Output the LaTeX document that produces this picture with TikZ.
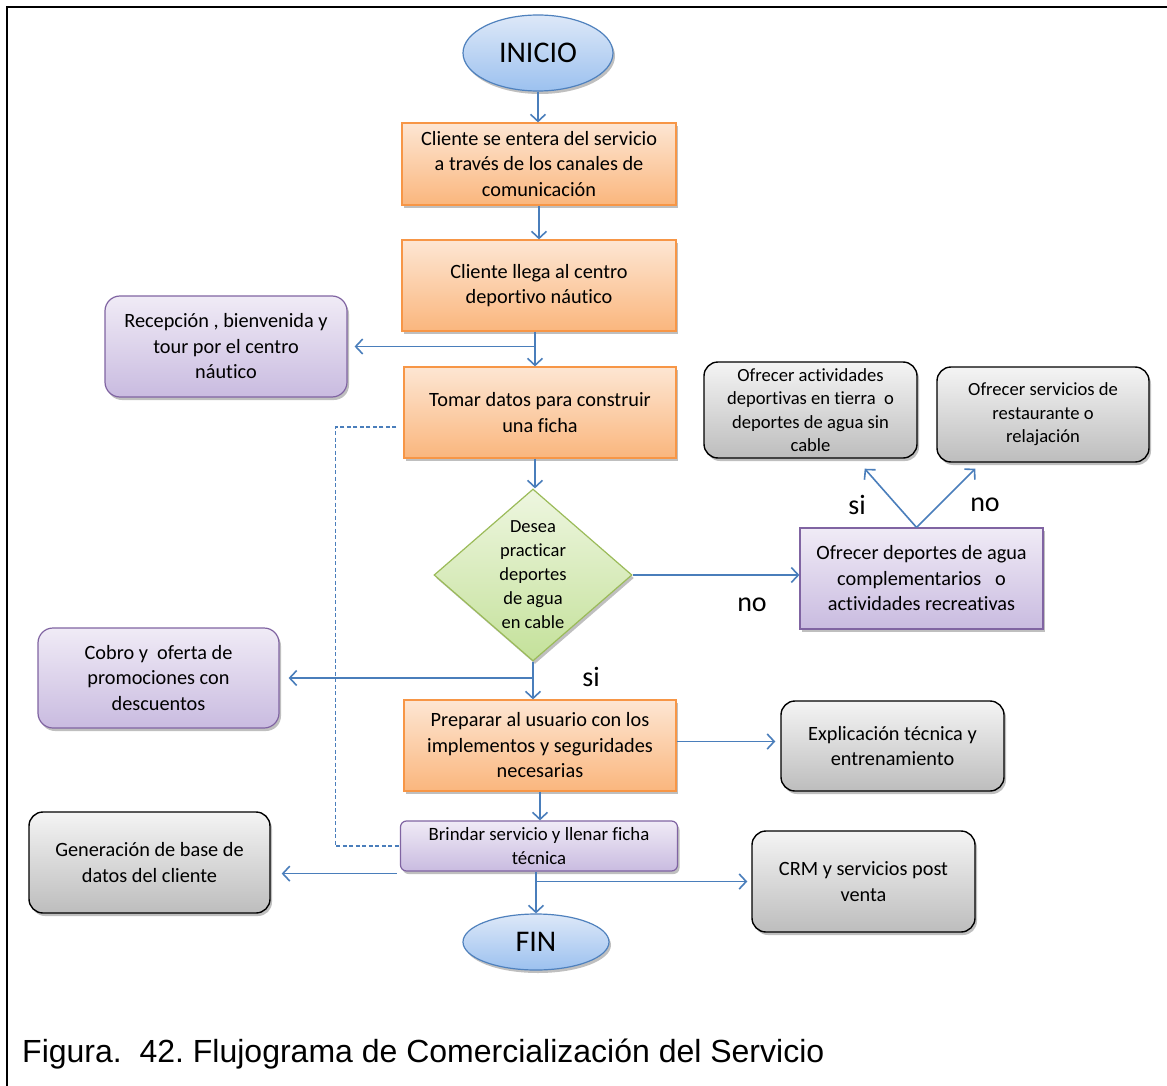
\documentclass[tikz,border=0pt]{standalone}
\usepackage{fontspec}
\setmainfont{Carlito}[Ligatures=NoCommon]
\newfontfamily\capfont{Liberation Sans}
\usetikzlibrary{arrows.meta,shapes.geometric,shadows,calc}

\definecolor{arrowblue}{HTML}{4A7EBB}
\definecolor{orangeborder}{HTML}{F79646}
\definecolor{orangetop}{HTML}{FDE6D3}
\definecolor{orangebot}{HTML}{FAB67D}
\definecolor{purpleborder}{HTML}{8064A2}
\definecolor{purpletop}{HTML}{F0EBF6}
\definecolor{purplebot}{HTML}{C9BBE0}
\definecolor{greenborder}{HTML}{9BBB59}
\definecolor{greentop}{HTML}{EEF6E0}
\definecolor{greenbot}{HTML}{C4E19A}
\definecolor{blueborder}{HTML}{4F81BD}
\definecolor{bluetop}{HTML}{DDE8F8}
\definecolor{bluebot}{HTML}{9CC1EF}
\definecolor{graytop}{HTML}{F4F4F4}
\definecolor{graybot}{HTML}{BDBDBD}

\tikzset{
  softshadow/.style={drop shadow={shadow xshift=2pt, shadow yshift=-3pt, opacity=0.25, fill=black}},
  box/.style={rectangle, inner sep=0pt, align=center, font=\fontsize{20.3}{25.5}\selectfont},
  orangebox/.style={box, draw=orangeborder, line width=1.2pt, top color=orangetop, bottom color=orangebot, softshadow},
  purplebox/.style={box, draw=purpleborder, line width=1.2pt, top color=purpletop, bottom color=purplebot, softshadow},
  graybox/.style={box, rounded corners=14pt, draw=black, line width=1.4pt, top color=graytop, bottom color=graybot, softshadow},
  terminal/.style={ellipse, inner sep=0pt, draw=blueborder, line width=1.2pt, top color=bluetop, bottom color=bluebot, font=\fontsize{30}{36}\selectfont, softshadow},
  decision/.style={diamond, inner sep=0pt, draw=greenborder, line width=1.2pt, top color=greentop, bottom color=greenbot, softshadow},
  arr/.style={draw=arrowblue, line width=1.6pt, -{Straight Barb[length=7pt,width=15pt]}},
  dashline/.style={draw=arrowblue, line width=1.2pt, dash pattern=on 4pt off 2.5pt},
  lbl/.style={inner sep=0pt, font=\fontsize{28}{30}\selectfont},
}

\begin{document}
\begin{tikzpicture}[x=1pt,y=-1pt]
\useasboundingbox (0,0) rectangle (1167,1086);
\fill[white] (0,0) rectangle (1167,1086);

% page frame (top and left edges)
\draw[line width=2.5pt] (7,1086) -- (7,7) -- (1167,7);

% main column
\node[terminal, minimum width=150pt, minimum height=76pt] (inicio) at (538,53) {INICIO};
\node[orangebox, minimum width=274pt, minimum height=82pt] (b1) at (539,164)
  {Cliente se entera del servicio\\a través de los canales de\\comunicación};
\node[orangebox, minimum width=274pt, minimum height=91pt] (b2) at (539,285.5)
  {Cliente llega al centro\\deportivo náutico};
\node[orangebox, minimum width=272pt, minimum height=91pt] (b3) at (540,412.5)
  {Tomar datos para construir\\una ficha};
\node[decision, minimum width=198pt, minimum height=172pt] (dec) at (533,575) {};
\node[box, font=\fontsize{18.5}{24}\selectfont] (dectext) at (dec) {Desea\\practicar\\deportes\\de agua\\en cable};
\node[orangebox, minimum width=272pt, minimum height=91pt] (prep) at (540,745.5)
  {Preparar al usuario con los\\implementos y seguridades\\necesarias};
\node[purplebox, rounded corners=6pt, minimum width=277pt, minimum height=50pt,
      font=\fontsize{18.8}{24}\selectfont] (brindar) at (539,846)
  {Brindar servicio y llenar ficha\\técnica};
\node[terminal, minimum width=146pt, minimum height=56pt] (fin) at (536,942) {FIN};

% side boxes
\node[purplebox, rounded corners=15pt, minimum width=242pt, minimum height=101pt] (recep) at (226,346.5)
  {Recepción , bienvenida y\\tour por el centro\\náutico};
\node[purplebox, minimum width=243pt, minimum height=101pt] (ofrecer) at (921.5,578.5)
  {Ofrecer deportes de agua\\complementarios~~~o\\actividades recreativas};
\node[graybox, minimum width=213pt, minimum height=96pt, font=\fontsize{18.6}{23.5}\selectfont] (tierra) at (810.5,410)
  {Ofrecer actividades\\deportivas en tierra~~o\\deportes de agua sin\\cable};
\node[graybox, minimum width=212pt, minimum height=95pt, font=\fontsize{18.6}{23.5}\selectfont] (resto) at (1043,414.5)
  {Ofrecer servicios de\\restaurante o\\relajación};
\node[purplebox, rounded corners=15pt, minimum width=241pt, minimum height=100pt] (cobro) at (158.5,678)
  {Cobro y~~oferta de\\promociones con\\descuentos};
\node[graybox, minimum width=223pt, minimum height=90pt] (explic) at (892.5,746)
  {Explicación técnica y\\entrenamiento};
\node[graybox, minimum width=241pt, minimum height=101pt] (gener) at (149.5,862.5)
  {Generación de base de\\datos del cliente};
\node[graybox, minimum width=223pt, minimum height=101pt] (crm) at (863.5,881.5)
  {CRM y servicios post\\venta};

% main flow
\draw[arr] (inicio.south) -- (inicio.south |- b1.north);
\draw[arr] (b1.south) -- (b1.south |- b2.north);
\draw[arr] ($(b2.south)+(-4,0)$) coordinate (b2s) -- (b2s |- b3.north);
\draw[arr, shorten >=7pt] (b2s |- recep.east) -- (recep.east);
\draw[arr] ($(b3.south)+(-5,0)$) coordinate (b3s) -- (b3s |- dec.north);
\draw[arr] (dec.south) -- (dec.south |- prep.north);
\draw[arr, shorten >=9pt] (dec.south |- cobro.east) -- (cobro.east);
\draw[arr] (dec.east) -- (dec.east -| ofrecer.west);
\draw[arr, shorten >=5pt] ($(prep.east)+(0,-4)$) coordinate (pe) -- (pe -| explic.west);
\draw[arr] (prep.south) -- (prep.south |- brindar.north);
\draw[arr] ($(brindar.south)+(-3,0)$) coordinate (bs) -- (bs |- fin.north);
\draw[arr, shorten >=4pt] (bs |- crm.west) -- (crm.west);
\coordinate (gl) at ($(brindar.south west)+(-3,2)$);
\draw[arr, shorten >=11pt] (gl) -- (gl -| gener.east);

% branches above the secondary offer
\draw[arr] ($(ofrecer.north)+(-5,0)$) coordinate (of) -- ($(tierra.south east)+(-53,10)$);
\draw[arr] (of) -- ($(resto.south west)+(39,6)$);

% record link
\draw[dashline] ($(b3.west)+(-7,14.5)$) -- ++(-61,0) |- (brindar.west);

% branch labels
\node[lbl] (si1) at (857,505) {si};
\node[lbl] (no1) at (985,505) {no};
\node[lbl] (no2) at (752,605) {no};
\node[lbl] (si2) at (591,677) {si};

% caption
\node[anchor=base west, inner sep=0pt, font=\capfont\fontsize{32}{36}\selectfont\frenchspacing] (cap) at (22,1062)
  {Figura.~~42. Flujograma de Comercialización del Servicio};
\end{tikzpicture}
\end{document}
